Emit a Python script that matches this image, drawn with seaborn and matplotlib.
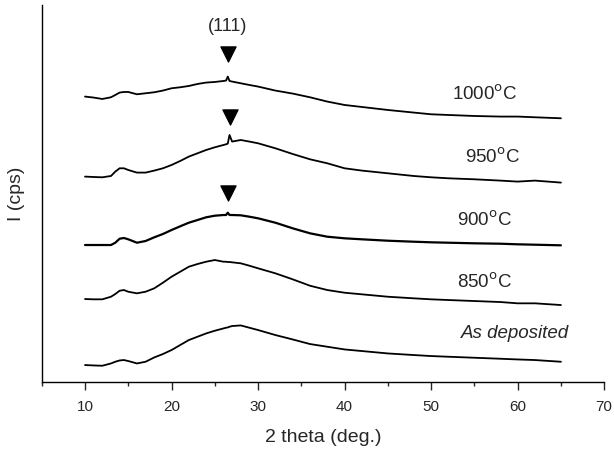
import matplotlib
matplotlib.use("Agg")
import matplotlib.pyplot as plt
import numpy as np
import pandas as pd
import seaborn as sns

# 2 theta positions (deg.)
two_theta = [10, 11, 12, 13, 13.5, 14, 14.5, 15, 16, 17, 18, 19, 20, 21, 22, 23, 24, 25,
             26, 26.3, 26.5, 26.7, 27, 28, 29, 30, 32, 34, 36, 38, 40, 42, 45, 48, 50,
             52, 55, 58, 60, 62, 65]

# intensities (a.u., relative to each trace's own base)
i_1000 = [22.7, 21.7, 20.3, 22.0, 24.3, 26.7, 27.3, 27.3, 25.0, 26.0, 27.0, 28.7, 31.0, 32.0,
          33.3, 35.3, 36.7, 37.3, 38.3, 38.7, 42.7, 38.3, 37.7, 36.0, 34.3, 32.7, 28.7, 25.7,
          22.0, 17.7, 14.3, 12.3, 9.3, 6.7, 5.0, 4.3, 3.3, 2.7, 2.7, 2.0, 1.0]
i_950 = [6.7, 6.3, 6.0, 7.3, 11.7, 15.0, 15.0, 13.3, 10.7, 10.7, 12.7, 15.0, 18.3, 22.3,
         26.7, 30.0, 33.3, 36.0, 38.3, 39.0, 39.7, 48.3, 41.7, 43.3, 41.7, 40.0, 35.0, 29.3,
         24.0, 20.0, 15.0, 12.7, 10.0, 7.3, 6.0, 5.0, 4.0, 2.7, 1.7, 2.7, 0.7]
i_900 = [1.0, 1.0, 1.0, 1.0, 3.3, 7.3, 8.0, 6.7, 3.3, 5.0, 8.7, 12.0, 16.0, 19.7,
         23.3, 26.0, 28.7, 30.3, 31.0, 31.0, 33.3, 31.0, 31.0, 30.7, 29.3, 27.7, 23.3, 17.7,
         12.7, 9.3, 7.7, 6.7, 5.3, 4.3, 3.7, 3.3, 2.7, 2.3, 1.7, 1.3, 0.7]
i_850 = [7.0, 6.7, 6.7, 9.3, 12.0, 15.3, 16.0, 14.3, 12.7, 14.3, 17.7, 23.3, 29.3, 34.3,
         39.3, 42.0, 44.3, 46.0, 44.3, 44.3, 44.0, 44.0, 43.7, 42.7, 40.3, 37.7, 32.7, 26.7,
         20.3, 16.0, 13.3, 11.7, 9.3, 7.7, 6.7, 6.0, 5.0, 4.0, 2.7, 2.7, 1.0]
i_asdep = [1.7, 1.3, 1.0, 3.3, 5.0, 6.3, 6.7, 5.7, 3.3, 5.0, 9.3, 12.7, 16.7, 21.7,
           26.7, 30.0, 33.3, 36.0, 38.3, 39.0, 39.3, 40.0, 40.7, 41.3, 39.0, 36.7, 31.7, 27.3,
           22.7, 20.0, 17.3, 15.7, 13.3, 11.7, 10.7, 10.0, 9.0, 8.0, 7.3, 6.7, 5.0]

samples = ["1000$^{\\rm o}$C", "950$^{\\rm o}$C", "900$^{\\rm o}$C", "850$^{\\rm o}$C", "As deposited"]
series = [i_1000, i_950, i_900, i_850, i_asdep]
offsets = [262.7, 198.7, 136.0, 76.0, 15.3]

# (111) peak marks
peak_x = [26.5, 26.7, 26.5]
peak_y = [327.7, 265.3, 189.3]

sns.set_style("ticks")
plt.rcParams["font.family"] = ["Liberation Sans", "DejaVu Sans"]

fig = plt.figure(figsize=(6.14, 4.5), dpi=100)
ax = fig.add_axes([0.068, 0.151, 0.916, 0.838])

for name, vals, off in zip(samples, series, offsets):
    df = pd.DataFrame({"x": two_theta, "y": np.array(vals) + off})
    lw = 1.6 if name.startswith("900") else 1.3
    sns.lineplot(data=df, x="x", y="y", color="black", linewidth=lw, ax=ax)

sns.scatterplot(x=peak_x, y=peak_y, marker="v", s=120, color="black", edgecolor="black", ax=ax)
ax.text(26.5, 355, "(111)", ha="center", va="center", fontsize=13)

lab_x = [56.2, 57.1, 56.2, 56.2, 59.7]
lab_y = [288, 225, 162, 100, 49]
for name, lx, ly in zip(samples, lab_x, lab_y):
    st = "oblique" if name == "As deposited" else "normal"
    ax.text(lx, ly, name, ha="center", va="center", fontsize=13.5, style=st)

ax.set_xlim(5, 70)
ax.set_ylim(0, 377)
ax.set_xticks(range(10, 71, 10))
ax.set_xticks(range(5, 70, 10), minor=True)
ax.set_yticks([])
ax.tick_params(axis="x", which="major", length=6, width=1, labelsize=11, pad=7, direction="out")
ax.tick_params(axis="x", which="minor", length=3, width=1, direction="out")
ax.set_xlabel("2 theta (deg.)", fontsize=14, labelpad=11)
ax.set_ylabel("I (cps)", fontsize=14, labelpad=12)
sns.despine(ax=ax)
for s in ["left", "bottom"]:
    ax.spines[s].set_color("black")
    ax.spines[s].set_linewidth(1.0)

fig.savefig("out.png", dpi=100)
